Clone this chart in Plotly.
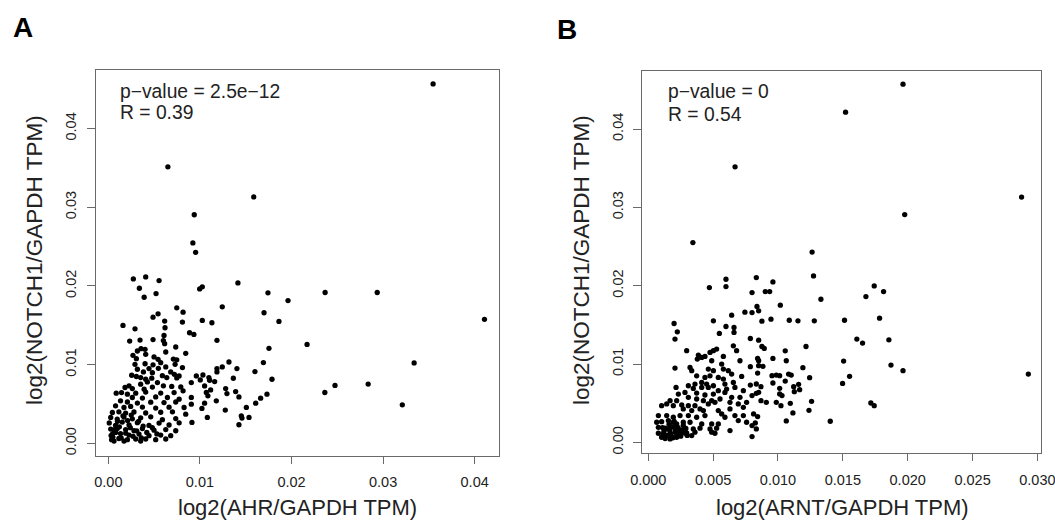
import plotly.graph_objects as go

# ---------------- Panel A: AHR vs NOTCH1 ----------------
a_x = [
    0.03546, 0.00650, 0.01588, 0.00938, 0.00923, 0.02367, 0.02936, 0.04107, 0.03339, 0.02364, 0.02475, 0.02837, 0.03210,
    0.00953, 0.00997, 0.01026, 0.01415, 0.01743, 0.01962, 0.01244, 0.01700, 0.01863, 0.01026, 0.01131, 0.00887,
    0.00934, 0.01186, 0.01754, 0.02170, 0.01693, 0.01317, 0.01244, 0.01186, 0.01186, 0.01404, 0.01601, 0.01787,
    0.00961, 0.01033, 0.01098, 0.01004, 0.01106, 0.01161, 0.00906, 0.01365, 0.01051, 0.01281, 0.01117, 0.01070,
    0.01087, 0.01390, 0.01295, 0.01426, 0.01732, 0.01663, 0.01609, 0.00906, 0.00906, 0.01179, 0.01051, 0.01022,
    0.01507, 0.01277, 0.01081, 0.01452, 0.01459, 0.01536, 0.01426, 0.00913,
    0.00273, 0.00408, 0.00554, 0.00339, 0.00521, 0.00391, 0.00747, 0.00816, 0.00543, 0.00488, 0.00615, 0.00809,
    0.00160, 0.00291, 0.00619, 0.00608, 0.00233, 0.00346, 0.00488, 0.00601, 0.00615, 0.00736, 0.00357, 0.00401,
    0.00317, 0.00627, 0.00845, 0.00269, 0.00408, 0.00499, 0.00306, 0.00543, 0.00710, 0.00747, 0.00291, 0.00401,
    0.00488, 0.00572, 0.00729, 0.00809, 0.00627, 0.00317, 0.00444, 0.00546, 0.00383, 0.00481, 0.00681, 0.00721,
    0.00773, 0.00255, 0.00306, 0.00590, 0.00353, 0.00408, 0.00474, 0.00638, 0.00747, 0.00426, 0.00536, 0.00353,
    0.00226, 0.00182, 0.00262, 0.00391, 0.00481, 0.00601, 0.00692, 0.00791, 0.00144, 0.00086, 0.00208, 0.00299,
    0.00408, 0.00572, 0.00718, 0.00816, 0.00262, 0.00372, 0.00517, 0.00645, 0.00773, 0.00133, 0.00208, 0.00317,
    0.00463, 0.00608, 0.00736, 0.00079, 0.00171, 0.00244, 0.00372, 0.00517, 0.00663, 0.00827, 0.00044, 0.00115,
    0.00189, 0.00280, 0.00408, 0.00572, 0.00700, 0.00845, 0.00026, 0.00097, 0.00171, 0.00262, 0.00353, 0.00463,
    0.00590, 0.00736, 0.00010, 0.00079, 0.00152, 0.00226, 0.00317, 0.00444, 0.00554, 0.00663, 0.00773, 0.00026,
    0.00097, 0.00189, 0.00280, 0.00372, 0.00499, 0.00627, 0.00736, 0.00044, 0.00133, 0.00226, 0.00335, 0.00444,
    0.00572, 0.00681, 0.00036, 0.00115, 0.00208, 0.00299, 0.00408, 0.00517, 0.00627, 0.00062, 0.00171, 0.00353,
    0.00050, 0.00080, 0.00120, 0.00140, 0.00190, 0.00240, 0.00270, 0.00310, 0.00100, 0.00160, 0.00210, 0.00250,
    0.00330, 0.00380, 0.00420, 0.00360, 0.00480, 0.00530, 0.00060, 0.00030,
]
a_y = [
    0.04567, 0.03514, 0.03131, 0.02905, 0.02547, 0.01917, 0.01917, 0.01576, 0.01022, 0.00647, 0.00737, 0.00754, 0.00490,
    0.02427, 0.01963, 0.01989, 0.02039, 0.01913, 0.01815, 0.01735, 0.01660, 0.01549, 0.01562, 0.01533, 0.01406,
    0.01385, 0.01309, 0.01208, 0.01258, 0.01027, 0.01034, 0.00971, 0.00950, 0.00908, 0.00950, 0.00913, 0.00815,
    0.00857, 0.00869, 0.00836, 0.00806, 0.00802, 0.00786, 0.00773, 0.00828, 0.00730, 0.00697, 0.00680, 0.00647,
    0.00604, 0.00659, 0.00633, 0.00591, 0.00625, 0.00575, 0.00511, 0.00584, 0.00499, 0.00541, 0.00511, 0.00444,
    0.00457, 0.00423, 0.00330, 0.00351, 0.00322, 0.00330, 0.00237, 0.00267,
    0.02090, 0.02115, 0.02068, 0.01971, 0.01904, 0.01857, 0.01722, 0.01667, 0.01646, 0.01604, 0.01554, 0.01541,
    0.01499, 0.01456, 0.01469, 0.01372, 0.01300, 0.01313, 0.01319, 0.01306, 0.01267, 0.01225, 0.01203, 0.01195,
    0.01174, 0.01161, 0.01144, 0.01119, 0.01132, 0.01098, 0.01077, 0.01068, 0.01071, 0.01062, 0.01005, 0.01012,
    0.00998, 0.01026, 0.01005, 0.00963, 0.00971, 0.00942, 0.00950, 0.00954, 0.00908, 0.00899, 0.00908, 0.00878,
    0.00857, 0.00866, 0.00850, 0.00861, 0.00836, 0.00815, 0.00829, 0.00836, 0.00832, 0.00781, 0.00773, 0.00752,
    0.00731, 0.00710, 0.00697, 0.00689, 0.00715, 0.00731, 0.00724, 0.00718, 0.00646, 0.00638, 0.00625, 0.00638,
    0.00652, 0.00640, 0.00646, 0.00668, 0.00583, 0.00576, 0.00590, 0.00583, 0.00562, 0.00541, 0.00526, 0.00512,
    0.00524, 0.00519, 0.00526, 0.00477, 0.00456, 0.00470, 0.00462, 0.00449, 0.00460, 0.00456, 0.00393, 0.00401,
    0.00385, 0.00399, 0.00386, 0.00396, 0.00401, 0.00371, 0.00330, 0.00309, 0.00335, 0.00312, 0.00325, 0.00338,
    0.00302, 0.00316, 0.00260, 0.00228, 0.00271, 0.00235, 0.00263, 0.00229, 0.00258, 0.00234, 0.00261, 0.00182,
    0.00190, 0.00176, 0.00161, 0.00188, 0.00168, 0.00176, 0.00161, 0.00119, 0.00125, 0.00106, 0.00119, 0.00098,
    0.00106, 0.00098, 0.00047, 0.00062, 0.00047, 0.00056, 0.00056, 0.00047, 0.00056, 0.00030, 0.00030, 0.00030,
    0.00080, 0.00140, 0.00210, 0.00070, 0.00130, 0.00200, 0.00090, 0.00160, 0.00280, 0.00350, 0.00290, 0.00360,
    0.00280, 0.00220, 0.00140, 0.00070, 0.00200, 0.00120, 0.00170, 0.00100,
]

# ---------------- Panel B: ARNT vs NOTCH1 ----------------
b_x = [
    0.01964, 0.01521, 0.00669, 0.02878, 0.01977, 0.00344, 0.01263, 0.02930, 0.01964,
    0.01274, 0.00833, 0.00961, 0.00800, 0.00902, 0.00936, 0.01742, 0.01814, 0.01678, 0.01331, 0.01018, 0.00838,
    0.00800, 0.00851, 0.00876, 0.00946, 0.01087, 0.01154, 0.01280, 0.01513, 0.01783, 0.01608, 0.01652, 0.01855,
    0.00787, 0.00851, 0.00876, 0.00894, 0.01056, 0.01216, 0.00843, 0.00851, 0.00961, 0.01064, 0.01506, 0.00787,
    0.00851, 0.00884, 0.00843, 0.01192, 0.01871, 0.00954, 0.00987, 0.01013, 0.01082, 0.01102, 0.01244, 0.01552,
    0.00787, 0.00833, 0.00869, 0.00961, 0.01056, 0.01013, 0.01121, 0.01159, 0.01167, 0.01126, 0.01498, 0.00800,
    0.00833, 0.00851, 0.01013, 0.01031, 0.00869, 0.00910, 0.00987, 0.01023, 0.01095, 0.01259, 0.01716, 0.01742,
    0.00812, 0.00843, 0.01115, 0.01239, 0.00800, 0.00825, 0.00833, 0.01064, 0.01403, 0.00800,
    0.00599, 0.00599, 0.00471, 0.00643, 0.00745, 0.00502, 0.00199, 0.00599, 0.00661, 0.00224, 0.00548, 0.00661,
    0.00206, 0.00296, 0.00656, 0.00527, 0.00502, 0.00476, 0.00386, 0.00412, 0.00437, 0.00681, 0.00579, 0.00489,
    0.00378, 0.00707, 0.00566, 0.00206, 0.00322, 0.00335, 0.00463, 0.00502, 0.00579, 0.00617, 0.00643, 0.00373,
    0.00437, 0.00476, 0.00540, 0.00720, 0.00412, 0.00450, 0.00579, 0.00591, 0.00360, 0.00502, 0.00656, 0.00214,
    0.00309, 0.00347, 0.00412, 0.00463, 0.00604, 0.00668, 0.00540, 0.00232, 0.00283, 0.00373, 0.00437, 0.00502,
    0.00591, 0.00733, 0.00168, 0.00219, 0.00309, 0.00373, 0.00425, 0.00489, 0.00553, 0.00643, 0.00707, 0.00103,
    0.00142, 0.00193, 0.00258, 0.00309, 0.00360, 0.00463, 0.00514, 0.00630, 0.00694, 0.00758, 0.00270, 0.00335,
    0.00399, 0.00425, 0.00540, 0.00566, 0.00630, 0.00733, 0.00078, 0.00142, 0.00193, 0.00245, 0.00309, 0.00373,
    0.00437, 0.00591, 0.00668, 0.00733, 0.00065, 0.00103, 0.00155, 0.00193, 0.00219, 0.00270, 0.00322, 0.00412,
    0.00489, 0.00540, 0.00694, 0.00758, 0.00078, 0.00129, 0.00168, 0.00206, 0.00232, 0.00283, 0.00347, 0.00399,
    0.00476, 0.00527, 0.00630, 0.00078, 0.00116, 0.00168, 0.00206, 0.00245, 0.00296, 0.00360, 0.00489, 0.00514,
    0.00103, 0.00181, 0.00219, 0.00335, 0.00168,
    0.00120, 0.00140, 0.00150, 0.00170, 0.00180, 0.00190, 0.00210, 0.00220, 0.00230, 0.00240, 0.00250, 0.00260,
    0.00270, 0.00130, 0.00160, 0.00200, 0.00280, 0.00290, 0.00110, 0.00300,
]
b_y = [
    0.04572, 0.04215, 0.03518, 0.03131, 0.02908, 0.02551, 0.02430, 0.00873, 0.00916,
    0.02125, 0.02104, 0.02049, 0.01913, 0.01925, 0.01925, 0.01998, 0.01925, 0.01862, 0.01828, 0.01752, 0.01735,
    0.01658, 0.01680, 0.01548, 0.01573, 0.01560, 0.01552, 0.01552, 0.01560, 0.01586, 0.01319, 0.01268, 0.01310,
    0.01327, 0.01306, 0.01225, 0.01200, 0.01170, 0.01225, 0.01073, 0.01043, 0.01073, 0.01043, 0.01039, 0.00967,
    0.00980, 0.00972, 0.00886, 0.00955, 0.00988, 0.00852, 0.00860, 0.00852, 0.00873, 0.00860, 0.00827, 0.00844,
    0.00733, 0.00746, 0.00712, 0.00759, 0.00784, 0.00691, 0.00712, 0.00742, 0.00674, 0.00648, 0.00754, 0.00598,
    0.00627, 0.00640, 0.00619, 0.00598, 0.00534, 0.00513, 0.00513, 0.00470, 0.00500, 0.00525, 0.00504, 0.00470,
    0.00365, 0.00330, 0.00377, 0.00411, 0.00216, 0.00250, 0.00173, 0.00275, 0.00271, 0.00076,
    0.02083, 0.01990, 0.01977, 0.01624, 0.01663, 0.01552, 0.01518, 0.01480, 0.01468, 0.01412, 0.01391, 0.01404,
    0.01319, 0.01171, 0.01234, 0.01192, 0.01171, 0.01149, 0.01115, 0.01085, 0.01098, 0.01171, 0.01098, 0.01043,
    0.01064, 0.01043, 0.01000, 0.00949, 0.00958, 0.00916, 0.00937, 0.00916, 0.00937, 0.00916, 0.00873, 0.00851,
    0.00830, 0.00851, 0.00830, 0.00843, 0.00766, 0.00745, 0.00809, 0.00745, 0.00745, 0.00724, 0.00766, 0.00703,
    0.00724, 0.00690, 0.00703, 0.00703, 0.00682, 0.00703, 0.00661, 0.00618, 0.00639, 0.00631, 0.00606, 0.00618,
    0.00639, 0.00661, 0.00534, 0.00534, 0.00576, 0.00555, 0.00534, 0.00534, 0.00555, 0.00576, 0.00576, 0.00470,
    0.00492, 0.00470, 0.00479, 0.00470, 0.00470, 0.00492, 0.00513, 0.00513, 0.00492, 0.00513, 0.00428, 0.00407,
    0.00428, 0.00407, 0.00407, 0.00364, 0.00428, 0.00449, 0.00343, 0.00343, 0.00322, 0.00343, 0.00343, 0.00322,
    0.00343, 0.00322, 0.00343, 0.00343, 0.00258, 0.00266, 0.00279, 0.00258, 0.00237, 0.00258, 0.00258, 0.00237,
    0.00237, 0.00237, 0.00279, 0.00258, 0.00194, 0.00182, 0.00173, 0.00194, 0.00165, 0.00173, 0.00173, 0.00182,
    0.00173, 0.00182, 0.00152, 0.00118, 0.00110, 0.00122, 0.00131, 0.00110, 0.00122, 0.00131, 0.00131, 0.00118,
    0.00067, 0.00076, 0.00067, 0.00088, 0.00046,
    0.00140, 0.00090, 0.00170, 0.00110, 0.00200, 0.00060, 0.00150, 0.00100, 0.00190, 0.00130, 0.00080, 0.00160,
    0.00220, 0.00050, 0.00230, 0.00270, 0.00120, 0.00180, 0.00190, 0.00090,
]

a_xticks = [0.00, 0.01, 0.02, 0.03, 0.04]
b_xticks = [0.000, 0.005, 0.010, 0.015, 0.020, 0.025, 0.030]
y_ticks = [0.00, 0.01, 0.02, 0.03, 0.04]

FONT = "Liberation Sans, Arial, Helvetica, sans-serif"
LINE = "#6a6a6a"
TXT = "#222222"
W, H = 1055, 528

fig = go.Figure()
fig.add_trace(go.Scatter(x=a_x, y=a_y, mode="markers", xaxis="x", yaxis="y",
                         marker=dict(size=5.3, color="black"), showlegend=False))
fig.add_trace(go.Scatter(x=b_x, y=b_y, mode="markers", xaxis="x2", yaxis="y2",
                         marker=dict(size=5.3, color="black"), showlegend=False))

def xax(domain, rng, ticks, fmt):
    return dict(domain=domain, range=rng, showgrid=False, zeroline=False,
                showline=True, linecolor=LINE, linewidth=1, mirror=True,
                ticks="outside", ticklen=7, tickcolor=LINE, tickwidth=1,
                tickvals=ticks, ticktext=[fmt.format(t) for t in ticks],
                tickfont=dict(family=FONT, size=14.5, color=TXT),
                ticklabelstandoff=6, ticklabeloverflow="allow",
                automargin=False, fixedrange=True)

def yax(domain, rng, anchor):
    return dict(domain=domain, range=rng, anchor=anchor, showgrid=False, zeroline=False,
                showline=True, linecolor=LINE, linewidth=1, mirror=True,
                ticks="outside", ticklen=8, tickcolor=LINE, tickwidth=1,
                tickvals=y_ticks, ticktext=["{:.2f}".format(t) for t in y_ticks],
                tickangle=-90, tickfont=dict(family=FONT, size=14.5, color=TXT),
                ticklabelstandoff=5, ticklabeloverflow="allow",
                automargin=False, fixedrange=True)

fig.update_layout(
    width=W, height=H,
    margin=dict(l=0, r=0, t=0, b=0),
    paper_bgcolor="white", plot_bgcolor="white",
    font=dict(family=FONT, color=TXT),
    xaxis=dict(xax([95.7 / W, 499.3 / W], [-0.00138, 0.04269], a_xticks, "{:.2f}"), anchor="y"),
    yaxis=yax([1 - 456 / H, 1 - 69.5 / H], [-0.0016, 0.0475], "x"),
    xaxis2=dict(xax([642.3 / W, 1041.3 / W], [-0.00046, 0.0303], b_xticks, "{:.3f}"), anchor="y2"),
    yaxis2=yax([1 - 453.3 / H, 1 - 70.7 / H], [-0.00138, 0.04744], "x2"),
)

def ann(text, px, py, size, xanchor="center", angle=0, bold=False):
    fig.add_annotation(text=("<b>%s</b>" % text) if bold else text,
                       x=px / W, y=1 - py / H, xref="paper", yref="paper",
                       xanchor=xanchor, yanchor="middle", showarrow=False, textangle=angle,
                       borderpad=0,
                       font=dict(family=FONT, size=size, color="black" if bold else TXT))

# panel letters
ann("A", 23, 28, 28, bold=True)
ann("B", 567, 29, 28, bold=True)
# statistics
ann("p\u2212value = 2.5e\u221212", 119, 91, 19.3, xanchor="left")
ann("R = 0.39", 119, 113, 19.3, xanchor="left")
ann("p\u2212value = 0", 667, 91, 19.3, xanchor="left")
ann("R = 0.54", 667, 114, 19.3, xanchor="left")
# axis titles
ann("log2(AHR/GAPDH TPM)", 297.5, 507, 22)
ann("log2(NOTCH1/GAPDH TPM)", 34, 260, 22.5, angle=-90)
ann("log2(ARNT/GAPDH TPM)", 842, 507, 22)
ann("log2(NOTCH1/GAPDH TPM)", 581, 260, 22.5, angle=-90)

fig.write_html("out.html", config={"displayModeBar": False},
               post_script="document.body.style.margin='0px';")
